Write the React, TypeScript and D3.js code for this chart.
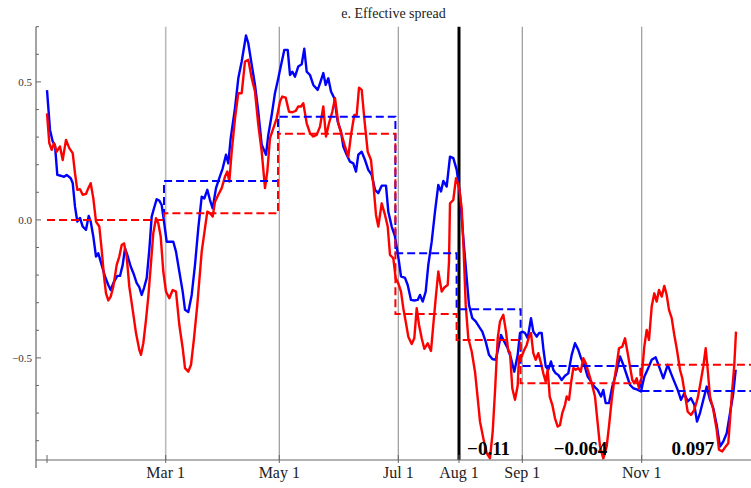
import React from "react";
import * as d3 from "d3";

// day index (0 = start of sample), value
const blueSeries: [number, number][] = [
  [0, 0.47], [1.5, 0.326], [2.85, 0.284], [4, 0.27], [5.15, 0.163], [6.85, 0.16], [8.5, 0.156], [9.85, 0.163],
  [11.85, 0.151], [12.85, 0.134], [14, 0.048], [15.15, -0.006], [16.5, 0.007], [17.85, -0.024], [19.5, -0.036],
  [20.85, 0.014], [21.85, -0.006], [23.15, -0.06], [24.5, -0.133], [25.65, -0.121], [26.85, -0.151], [29, -0.205],
  [30.65, -0.236], [31.85, -0.254], [33.15, -0.229], [35.15, -0.203], [36.5, -0.203], [37.85, -0.163], [39, -0.103],
  [40.15, -0.127], [41.85, -0.169], [43.5, -0.199], [44.85, -0.229], [46.15, -0.244], [47.35, -0.272], [48.5, -0.247],
  [49.85, -0.211], [51.15, -0.109], [52.35, 0.012], [53.5, 0.042], [54.85, 0.075], [56.15, 0.07], [57.35, 0.054],
  [58.5, -0.006], [59.85, -0.079], [63.15, -0.079], [64.5, -0.115], [66.15, -0.187], [67.85, -0.26], [69, -0.326],
  [70.65, -0.334], [72.35, -0.272], [74, -0.163], [75.65, -0.03], [77.35, 0.084], [78.65, 0.078], [80.15, 0.109],
  [81.5, 0.072], [82.85, 0.042], [84.5, 0.115], [86.15, 0.151], [87.85, 0.187], [89.5, 0.236], [90.65, 0.205],
  [91.85, 0.296], [94, 0.405], [95.65, 0.513], [97.35, 0.574], [99.5, 0.668], [100.65, 0.64], [102.35, 0.562],
  [104, 0.489], [105.65, 0.392], [107.35, 0.272], [109.5, 0.236], [110.65, 0.308], [112.35, 0.38], [114, 0.46],
  [115.65, 0.513], [116.5, 0.543], [118.65, 0.616], [120.35, 0.616], [121.5, 0.525], [122.65, 0.537], [124, 0.519],
  [125.65, 0.556], [127.35, 0.564], [128.65, 0.62], [129.85, 0.537], [131.5, 0.525], [133.15, 0.489], [135.35, 0.471],
  [136.5, 0.495], [138.15, 0.532], [139.35, 0.489], [140.65, 0.513], [142, 0.465], [143.65, 0.441], [145.35, 0.356],
  [147, 0.32], [148.15, 0.266], [149.85, 0.236], [151.5, 0.211], [153.15, 0.205], [154.5, 0.175], [155.65, 0.236],
  [157.35, 0.247], [159, 0.217], [160.65, 0.181], [162.35, 0.163], [164, 0.109], [165.65, 0.097], [167.35, 0.124],
  [169.5, 0.124], [170.65, 0.03], [172.35, -0.024], [174, -0.06], [176, -0.151], [177, -0.205], [179, -0.21],
  [180.35, -0.236], [182, -0.29], [183.65, -0.292], [185.35, -0.29], [186.5, -0.272], [187.85, -0.296], [189.35, -0.26],
  [190.65, -0.163], [192.35, -0.079], [194, 0.03], [195.65, 0.127], [197, 0.103], [198.15, 0.141], [199.85, 0.121],
  [201.5, 0.229], [203.15, 0.224], [204.85, 0.181], [206.5, 0.091], [208.15, -0.066], [209.85, -0.211], [211, -0.308],
  [212.65, -0.356], [214.35, -0.368], [216, -0.387], [217.65, -0.405], [219.35, -0.441], [221, -0.489], [222.65, -0.504],
  [224.35, -0.507], [225.65, -0.465], [227, -0.417], [228.65, -0.441], [230.35, -0.465], [232, -0.501], [233.65, -0.55],
  [235.35, -0.489], [236.5, -0.41], [237.65, -0.405], [239, -0.41], [240.35, -0.429], [242, -0.356], [243.15, -0.405],
  [244.85, -0.423], [246, -0.41], [247.35, -0.41], [248.15, -0.465], [249.35, -0.531], [250.65, -0.543], [252, -0.513],
  [253.15, -0.543], [254.35, -0.556], [255.65, -0.562], [257.35, -0.58], [259, -0.565], [260.65, -0.556], [262.35, -0.489],
  [264, -0.447], [265.65, -0.471], [267, -0.501], [268.65, -0.525], [270.35, -0.568], [272, -0.586], [273.65, -0.604],
  [275.35, -0.616], [277, -0.64], [278.15, -0.616], [279.35, -0.664], [281, -0.664], [282.65, -0.604], [284.35, -0.562],
  [286.5, -0.495], [288.15, -0.525], [289.85, -0.562], [291.5, -0.598], [293.15, -0.61], [294.85, -0.614], [297, -0.622],
  [298.65, -0.568], [300.65, -0.537], [302.35, -0.507], [304.35, -0.498], [306, -0.531], [308.15, -0.574], [310.35, -0.525],
  [312, -0.556], [313.65, -0.586], [315.35, -0.616], [317, -0.652], [318.65, -0.628], [320.35, -0.658], [322, -0.646],
  [323.65, -0.67], [325, -0.731], [326.5, -0.7], [328.15, -0.652], [329.85, -0.604], [331.5, -0.652], [333.15, -0.682],
  [334.85, -0.743], [336.5, -0.821], [338.15, -0.803], [339.85, -0.773], [341.5, -0.7], [343.15, -0.628], [344.35, -0.543],
];

const redSeries: [number, number][] = [
  [0, 0.386], [1.15, 0.278], [2.35, 0.254], [3.5, 0.278], [4.85, 0.247], [6.5, 0.266], [7.85, 0.217], [9.5, 0.29],
  [11.15, 0.26], [12.85, 0.242], [14, 0.169], [15.15, 0.109], [16.5, 0.111], [17.85, 0.091], [19.5, 0.094], [20.65, 0.115],
  [21.85, 0.133], [23.15, 0.079], [24.5, -0.006], [26.15, -0.024], [27.35, -0.109], [28.5, -0.205], [29.5, -0.266],
  [30.65, -0.292], [31.85, -0.278], [33.15, -0.242], [34.85, -0.163], [36.15, -0.133], [37.35, -0.091], [38.5, -0.085],
  [39.85, -0.133], [41.15, -0.242], [42.85, -0.326], [44.5, -0.41], [46.15, -0.471], [47, -0.489], [48.15, -0.447],
  [49.5, -0.362], [50.65, -0.278], [51.85, -0.169], [53.15, -0.048], [54.5, 0.006], [55.65, -0.012], [56.85, -0.06],
  [58.15, -0.187], [59.5, -0.26], [61.15, -0.284], [62.85, -0.254], [64.5, -0.26], [66.15, -0.38], [67.85, -0.465],
  [69, -0.537], [70.65, -0.55], [72, -0.525], [73.5, -0.429], [75.15, -0.308], [77.35, -0.115], [79, -0.03], [80.15, 0.03],
  [81.5, 0.024], [82.85, 0.012], [84, 0.066], [85.65, 0.091], [87.35, 0.115], [89, 0.157], [90.15, 0.175], [91.15, 0.139],
  [92.35, 0.247], [94, 0.368], [95.65, 0.459], [97.35, 0.459], [99, 0.574], [100.65, 0.58], [102.35, 0.513], [104, 0.465],
  [105.65, 0.344], [107.35, 0.247], [109, 0.115], [110.15, 0.175], [111.5, 0.296], [113.15, 0.332], [114.85, 0.368],
  [116.5, 0.429], [117.65, 0.447], [119.35, 0.443], [121, 0.392], [122.65, 0.39], [124.35, 0.395], [125.65, 0.411],
  [127, 0.411], [128.15, 0.423], [129.85, 0.35], [131.5, 0.314], [133.15, 0.302], [134.85, 0.308], [136.5, 0.338],
  [138.15, 0.411], [139.5, 0.302], [141, 0.35], [142.65, 0.392], [144, 0.441], [145.65, 0.35], [147.35, 0.308],
  [149, 0.266], [150.65, 0.229], [152, 0.308], [153.65, 0.38], [154.85, 0.38], [156, 0.479], [157.35, 0.471],
  [158.65, 0.368], [160.35, 0.247], [162, 0.217], [163.35, 0.115], [164.5, 0.018], [165.65, -0.024], [167.35, 0.06],
  [169, 0.018], [170.35, -0.024], [171.5, -0.127], [173.15, -0.139], [174.35, -0.211], [175.65, -0.23], [177, -0.26],
  [178.15, -0.32], [179.35, -0.368], [180.65, -0.423], [182.35, -0.45], [183.65, -0.429], [184.85, -0.32], [186, -0.38],
  [187.35, -0.429], [188.65, -0.467], [190.35, -0.447], [192, -0.475], [193.15, -0.38], [194.35, -0.284], [195.65, -0.187],
  [197.35, -0.26], [198.65, -0.245], [200.35, -0.236], [201, -0.151], [201.5, 0.06], [203.15, 0.072], [204.5, 0.151],
  [206, 0.121], [207.35, 0.042], [208.35, -0.115], [209.35, -0.308], [210.65, -0.429], [212.35, -0.477], [214, -0.55],
  [215.35, -0.646], [216.5, -0.731], [218.15, -0.791], [219.85, -0.845], [221.5, -0.864], [222.85, -0.767], [224, -0.622],
  [225.35, -0.429], [226.5, -0.368], [228.15, -0.344], [229.5, -0.405], [230.65, -0.477], [231.5, -0.48], [232.65, -0.61],
  [234, -0.652], [235.35, -0.6], [236, -0.495], [237.35, -0.495], [238.65, -0.471], [239.85, -0.453], [241, -0.423],
  [242, -0.41], [243.15, -0.483], [244.35, -0.507], [245.65, -0.483], [247, -0.519], [248.15, -0.556], [249.35, -0.586],
  [250.35, -0.543], [251.35, -0.64], [252.65, -0.67], [254, -0.719], [255.35, -0.749], [256.5, -0.743], [257.65, -0.7],
  [259, -0.67], [259.85, -0.64], [261, -0.652], [262, -0.592], [263.15, -0.537], [264.35, -0.543], [265.65, -0.537],
  [266.85, -0.55], [268.15, -0.501], [269.35, -0.519], [270.65, -0.55], [272.35, -0.592], [274, -0.64], [275.35, -0.737],
  [276.5, -0.821], [278.15, -0.864], [279.85, -0.821], [281.15, -0.737], [282.35, -0.652], [283.65, -0.58], [284.85, -0.525],
  [286, -0.465], [287.65, -0.459], [289, -0.429], [290.35, -0.483], [291.5, -0.531], [292.65, -0.58], [293.65, -0.592],
  [294.85, -0.574], [296, -0.61], [297.35, -0.568], [298.65, -0.459], [299.85, -0.399], [301, -0.435], [302.35, -0.314],
  [303.65, -0.266], [304.85, -0.296], [306, -0.254], [307.35, -0.278], [308.65, -0.239], [309.85, -0.272], [311, -0.326],
  [312.35, -0.356], [313.65, -0.417], [314.85, -0.465], [316.5, -0.543], [317.65, -0.574], [319, -0.634], [320.35, -0.695],
  [322, -0.707], [323.65, -0.688], [325.35, -0.646], [327, -0.58], [328.15, -0.531], [329.35, -0.465], [330.35, -0.543],
  [331.5, -0.64], [333.15, -0.688], [334.85, -0.761], [336, -0.833], [337.65, -0.839], [339.35, -0.821], [340.65, -0.809],
  [342.35, -0.64], [343.65, -0.525], [344.5, -0.405],
];

// period boundaries (days) and period means
const periodStarts = [0, 58.5, 115.5, 174.2, 204.8, 236.8, 296.8];
const periodEnd = 352;
const blueMeans = [0.0, 0.141, 0.374, -0.121, -0.324, -0.529, -0.62];
const redMeans = [0.0, 0.024, 0.312, -0.341, -0.435, -0.592, -0.525];

// x-axis ticks
const xTickDays = [0, 59.35, 116.15, 175.65, 206, 237.65, 297.35];
const xTickLabels = ["", "Mar 1", "May 1", "Jul 1", "Aug 1", "Sep 1", "Nov 1"];
const gridDays = [59.35, 116.15, 175.65, 237.65, 297.35];
const breakDay = 206;

// y-axis ticks
const yMajorTicks = [-0.5, 0, 0.5];
const yMajorLabels = ["\u22120.5", "0.0", "0.5"];
const yMinorTicks = [-0.8, -0.7, -0.6, -0.4, -0.3, -0.2, -0.1, 0.1, 0.2, 0.3, 0.4, 0.6, 0.7];

// difference annotations for last three periods
const diffLabels = ["\u22120.11", "\u22120.064", "0.097"];
const diffPeriodIdx = [4, 5, 6];
const diffEndDay = 349;

const title = "e. Effective spread";

export default function App() {
  const W = 751, H = 488;
  const x = d3.scaleLinear().domain([-5.5, 352]).range([36, 751]);
  const y = d3.scaleLinear().domain([-0.87, 0.7]).range([460, 26.7]);
  const axisX = x(-5.5);
  const axisY = y(-0.87);
  const top = y(0.7);

  const line = d3.line<[number, number]>().x(d => x(d[0])).y(d => y(d[1])).curve(d3.curveLinear);
  const stepLine = d3.line<[number, number]>().x(d => x(d[0])).y(d => y(d[1])).curve(d3.curveStepAfter);
  const stepData = (means: number[]): [number, number][] => {
    const pts: [number, number][] = periodStarts.map((s, i) => [s, means[i]]);
    pts.push([periodEnd, means[means.length - 1]]);
    return pts;
  };

  const serif = "'Liberation Serif', 'Times New Roman', serif";
  const axisColor = "#666";

  return (
    <svg width={W} height={H} style={{ position: "absolute", left: 0, top: 0 }} fontFamily={serif}>
      <rect x={0} y={0} width={W} height={H} fill="#fff" />
      {/* grid lines */}
      {gridDays.map((d, i) => (
        <line key={"g" + i} x1={x(d)} x2={x(d)} y1={top} y2={axisY} stroke={i === 0 ? "#bbb" : "#999"} strokeWidth={i === 0 ? 1.6 : 1.2} />
      ))}
      <line x1={x(breakDay)} x2={x(breakDay)} y1={top} y2={axisY} stroke="#000" strokeWidth={3} />

      {/* series */}
      <path d={line(blueSeries) || ""} fill="none" stroke="#0000ff" strokeWidth={2.4} strokeLinejoin="round" />
      <path d={line(redSeries) || ""} fill="none" stroke="#ff0000" strokeWidth={2.4} strokeLinejoin="round" />
      <path d={stepLine(stepData(blueMeans)) || ""} fill="none" stroke="#0000ff" strokeWidth={2} strokeDasharray="8,4" />
      <path d={stepLine(stepData(redMeans)) || ""} fill="none" stroke="#ff0000" strokeWidth={2} strokeDasharray="8,4" />

      {/* axes */}
      <line x1={axisX} x2={axisX} y1={top} y2={468} stroke={axisColor} strokeWidth={1.2} />
      <line x1={axisX} x2={W} y1={axisY} y2={axisY} stroke={axisColor} strokeWidth={1.2} />
      {yMajorTicks.map((v, i) => (
        <g key={"ym" + i}>
          <line x1={axisX} x2={axisX + 5} y1={y(v)} y2={y(v)} stroke={axisColor} strokeWidth={1} />
          <text x={axisX - 4} y={y(v)} dy="0.35em" textAnchor="end" fontSize={11} fill="#333">{yMajorLabels[i]}</text>
        </g>
      ))}
      {yMinorTicks.map((v, i) => (
        <line key={"yn" + i} x1={axisX} x2={axisX + 3} y1={y(v)} y2={y(v)} stroke={axisColor} strokeWidth={1} />
      ))}
      {xTickDays.map((d, i) => (
        <g key={"xt" + i}>
          <line x1={x(d)} x2={x(d)} y1={axisY - 5} y2={axisY + 3} stroke={axisColor} strokeWidth={1} />
          {xTickLabels[i] && (
            <text x={x(d)} y={478} textAnchor="middle" fontSize={16} fill="#222">{xTickLabels[i]}</text>
          )}
        </g>
      ))}

      {/* difference labels */}
      {diffLabels.map((t, i) => {
        const p = diffPeriodIdx[i];
        const s = periodStarts[p];
        const e = p + 1 < periodStarts.length ? periodStarts[p + 1] : diffEndDay;
        return (
          <text key={"dl" + i} x={x((s + e) / 2)} y={455} textAnchor="middle" fontSize={19} fontWeight="bold" fill="#000">{t}</text>
        );
      })}

      <text x={(36 + 751) / 2} y={18} textAnchor="middle" fontSize={14} fill="#222">{title}</text>
    </svg>
  );
}
